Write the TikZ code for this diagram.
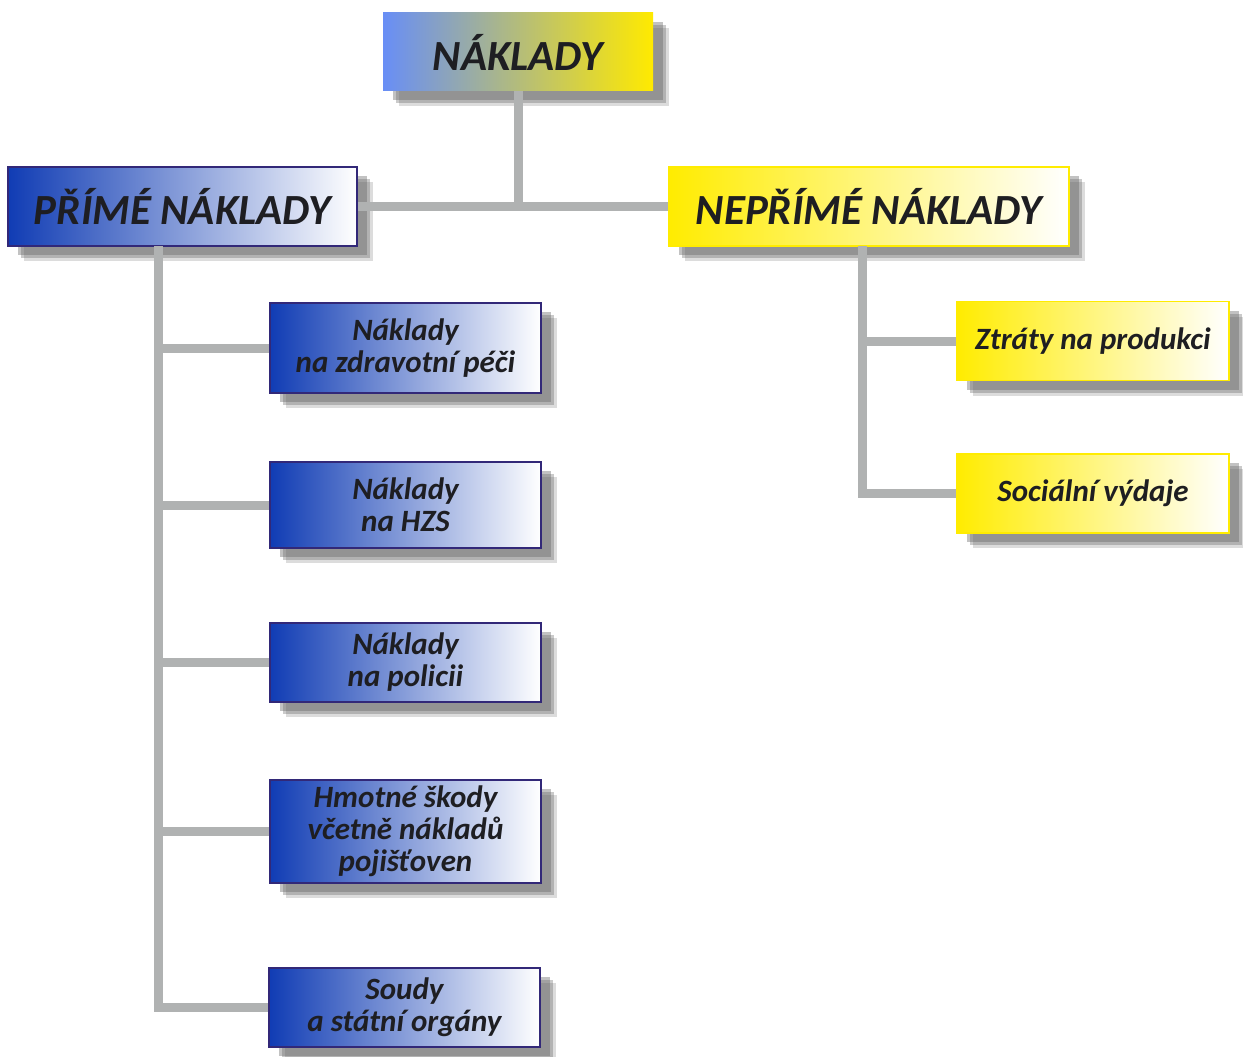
\documentclass[tikz,border=0pt]{standalone}
\usepackage{fontspec}
\setmainfont{Carlito}
\usetikzlibrary{shadows,positioning,calc}
\definecolor{topblue}{RGB}{104,142,246}
\definecolor{topyellow}{RGB}{255,234,0}
\definecolor{deepblue}{RGB}{16,60,180}
\definecolor{navyline}{RGB}{50,40,120}
\definecolor{brightyellow}{RGB}{255,236,0}
\definecolor{connline}{RGB}{176,178,178}
\definecolor{textdark}{RGB}{30,30,34}

\begin{document}
\begin{tikzpicture}[x=1pt, y=-1pt]
    \tikzstyle{boxshadow} = [drop shadow={shadow xshift=16pt, shadow yshift=-15pt, fill=black!55, opacity=0.25},
        drop shadow={shadow xshift=13pt, shadow yshift=-12pt, fill=black!60, opacity=0.35},
        drop shadow={shadow xshift=10pt, shadow yshift=-9pt, fill=black!60, opacity=0.4}]
    \tikzstyle{headbox} = [rectangle, boxshadow, text=textdark, align=center, inner sep=0pt,
        font=\fontsize{43}{48}\selectfont\bfseries\itshape]
    \tikzstyle{topbox} = [headbox, left color=topblue, right color=topyellow, minimum width=270pt, minimum height=78pt, font=\fontsize{43}{48}\selectfont\bfseries\itshape]
    \tikzstyle{bluehead} = [headbox, draw=navyline, line width=1.6pt, left color=deepblue, right color=white, minimum width=349pt, minimum height=79pt]
    \tikzstyle{yellowhead} = [headbox, draw=brightyellow, line width=1.6pt, left color=brightyellow, right color=white, minimum width=400pt, minimum height=79pt]
    \tikzstyle{bluebox} = [rectangle, boxshadow, draw=navyline, line width=1.6pt, left color=deepblue, right color=white, text=textdark, align=center, minimum width=271pt, inner sep=0pt, font=\fontsize{31}{32}\selectfont\bfseries\itshape]
    \tikzstyle{yellowbox} = [rectangle, boxshadow, draw=brightyellow, line width=1.6pt, left color=brightyellow, right color=white, text=textdark, align=center, minimum width=272pt, minimum height=79pt, inner sep=0pt, font=\fontsize{31}{32}\selectfont\bfseries\itshape]
    \tikzstyle{conn} = [draw=connline, line width=9pt]

    \useasboundingbox (0,0) rectangle (1243,1057);

    % Nodes
    \node[topbox] (naklady) at (518,52) {NÁKLADY};
    \node[bluehead] (prime) at (182.5,206.5) {PŘÍMÉ NÁKLADY};
    \node[yellowhead] (neprime) at (869,206.5) {NEPŘÍMÉ NÁKLADY};

    \node[bluebox, minimum height=90pt] (p1) at (405.5,348) {Náklady\\na zdravotní péči};
    \node[bluebox, minimum height=86pt] (p2) at (405.5,505) {Náklady\\na HZS};
    \node[bluebox, minimum height=79pt] (p3) at (405.5,662.5) {Náklady\\na policii};
    \node[bluebox, minimum height=103pt] (p4) at (405.5,831.5) {Hmotné škody\\včetně nákladů\\pojišťoven};
    \node[bluebox, minimum height=79pt] (p5) at (404.5,1007.5) {Soudy\\a státní orgány};

    \node[yellowbox] (n1) at (1093,341) {Ztráty na produkci};
    \node[yellowbox] (n2) at (1093,493.5) {Sociální výdaje};

    \coordinate (ptop) at (158,246);
    \coordinate (ntop) at (862,246);

    % Connectors
    \draw[conn] (naklady.south) -- (naklady.south |- prime.east);
    \draw[conn] (prime.east) -- (neprime.west);
    \draw[conn] (ptop) |- (p5.west);
    \foreach \b in {p1,p2,p3,p4}
        \draw[conn] (ptop |- \b.west) -- (\b.west);
    \draw[conn] (ntop) |- (n2.west);
    \draw[conn] (ntop |- n1.west) -- (n1.west);
\end{tikzpicture}
\end{document}
